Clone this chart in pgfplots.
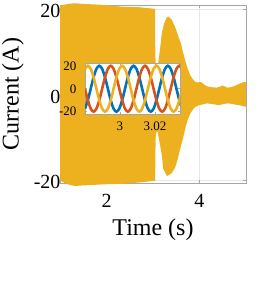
\documentclass[border=0pt]{standalone}
\usepackage{pgfplots}
\pgfplotsset{compat=1.18}
\usepackage{pgfplotstable}
\usepackage{fontspec}
\setmainfont{Liberation Serif}
\definecolor{mblue}{HTML}{0072BD}
\definecolor{mred}{HTML}{D95319}
\definecolor{myel}{HTML}{EDB120}
\definecolor{frame}{HTML}{A6A6A6}

% zoomed three-phase currents (time, phase a, phase b, phase c)
\pgfplotstableread{
t a b c
2.98000 -17.32 0 17.32
2.98163 -10 -10 20
2.98327 0 -17.32 17.32
2.98490 10 -20 10
2.98653 17.32 -17.32 0
2.98817 20 -10 -10
2.98980 17.32 0 -17.32
2.99143 10 10 -20
2.99307 0 17.32 -17.32
2.99470 -10 20 -10
2.99633 -17.32 17.32 0
2.99797 -20 10 10
2.99960 -17.32 0 17.32
3.00123 -10 -10 20
3.00287 0 -17.32 17.32
3.00450 10 -20 10
3.00613 17.32 -17.32 0
3.00777 20 -10 -10
3.00940 17.32 0 -17.32
3.01103 10 10 -20
3.01267 0 17.32 -17.32
3.01430 -10 20 -10
3.01593 -17.32 17.32 0
3.01757 -20 10 10
3.01920 -17.32 0 17.32
3.02083 -10 -10 20
3.02247 0 -17.32 17.32
3.02410 10 -20 10
3.02573 17.32 -17.32 0
3.02737 20 -10 -10
3.02900 17.32 0 -17.32
3.03063 10 10 -20
3.03227 0 17.32 -17.32
3.03390 -10 20 -10
3.03553 -17.32 17.32 0
}\zoomdata

\begin{document}
\begin{tikzpicture}
\path[use as bounding box] (-60bp,-107bp) rectangle (209bp,183bp);
\begin{axis}[
  at={(0,0)}, anchor=south west,
  width=186bp, height=178bp, scale only axis,
  xmin=1, xmax=5, ymin=-20.6, ymax=21,
  xtick={2,4}, ytick={-20,0,20},
  tick align=inside, major tick length=3bp,
  axis line style={frame, line width=0.5pt},
  every tick/.style={frame, line width=0.5pt},
  grid=major, major grid style={gray!18, line width=0.4pt},
  clip=false,
  /pgf/number format/assume math mode=true,
  tick label style={font=\fontsize{20bp}{20bp}\selectfont},
  xticklabel style={yshift=-8bp},
  yticklabel style={xshift=4bp, yshift=-2bp},
  xlabel={Time (s)}, ylabel={Current (A)},
  label style={font=\fontsize{24bp}{24bp}\selectfont},
  xlabel style={at={(axis description cs:0.5,-0.264)}, anchor=center},
  ylabel style={at={(axis description cs:-0.253,0.5)}, anchor=center},
]
\addplot[draw=none, fill=myel] coordinates {
(1.00,20.8) (1.1,21.1) (1.2,21.3) (1.32,21.4) (1.45,21.3) (1.6,21.2) (1.8,21.1) (1.97,21.0)
(2.15,20.8) (2.34,20.6) (2.5,20.55) (2.69,20.5) (2.85,20.3) (3.0,20.15) (3.045,20.1)
(3.047,12) (3.06,5) (3.08,4) (3.095,6.5) (3.114,7.6) (3.15,10.5) (3.19,14.4) (3.24,16.7)
(3.29,18.0) (3.33,18.3) (3.40,17.6) (3.475,15.9) (3.55,13.5) (3.6,12) (3.64,10.2) (3.69,8.1)
(3.75,6.0) (3.80,4.6) (3.86,3.6) (3.91,3.0) (3.96,2.9) (4.0,3.0) (4.05,2.9) (4.1,2.4)
(4.16,2.0) (4.25,1.8) (4.37,1.7) (4.44,1.9) (4.49,2.2) (4.54,2.0) (4.6,1.7) (4.68,1.8)
(4.78,2.2) (4.88,2.7) (4.96,3.0) (5.0,3.0)
(5.0,-2.8) (4.93,-2.6) (4.85,-2.4) (4.78,-2.3) (4.7,-2.1) (4.59,-2.0) (4.5,-2.2) (4.42,-2.4)
(4.35,-2.3) (4.25,-2.1) (4.16,-2.0) (4.08,-2.2) (4.0,-2.4) (3.91,-2.8) (3.86,-3.4) (3.8,-4.4)
(3.75,-5.7) (3.69,-8.0) (3.65,-10.0) (3.58,-12.8) (3.52,-15.5) (3.475,-17.0) (3.40,-18.3)
(3.30,-19.0) (3.22,-17.2) (3.19,-14.1) (3.14,-11) (3.10,-8.7) (3.08,-8.5) (3.06,-9.5)
(3.05,-14) (3.047,-20.1) (3.0,-20.1) (2.85,-20.3) (2.69,-20.5) (2.5,-20.65) (2.34,-20.8)
(2.15,-20.85) (1.97,-20.9) (1.8,-21.0) (1.6,-21.1) (1.45,-21.2) (1.32,-21.3) (1.2,-21.0)
(1.1,-20.6) (1.0,-20.0)
};
\end{axis}
\begin{axis}[
  at={(25bp,69bp)}, anchor=south west,
  width=95bp, height=50.5bp, scale only axis,
  xmin=2.98, xmax=3.0343, ymin=-22, ymax=22,
  xtick={3,3.02}, ytick={-20,0,20},
  xticklabels={3,3.02},
  tick align=inside, major tick length=2bp,
  axis line style={frame, line width=0.5pt},
  every tick/.style={frame, line width=0.5pt},
  axis background/.style={fill=white},
  /pgf/number format/assume math mode=true,
  tick label style={font=\fontsize{13bp}{13bp}\selectfont},
  xticklabel style={yshift=-4bp},
  yticklabel style={xshift=-5bp},
]
\addplot[mblue, line width=2.6pt, smooth] table[x=t, y=a] {\zoomdata};
\addplot[mred, line width=2.6pt, smooth] table[x=t, y=b] {\zoomdata};
\addplot[myel, line width=2.6pt, smooth] table[x=t, y=c] {\zoomdata};
\end{axis}
\end{tikzpicture}
\end{document}
